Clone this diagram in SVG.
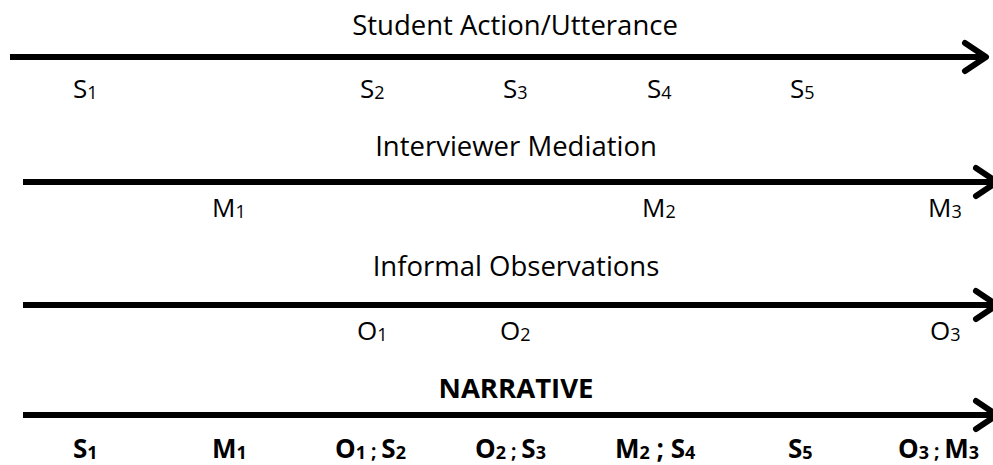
<svg xmlns="http://www.w3.org/2000/svg" width="993" height="465" viewBox="0 0 993 465">
<style>
.ax{fill:none;stroke:#000;stroke-width:6;stroke-linecap:round;stroke-linejoin:round}
.line{fill:none;stroke:#000;stroke-width:6}
text{font-family:"Open Sans","Noto Sans","Liberation Sans",sans-serif;font-size:26px;fill:#000}
.t{text-anchor:middle;font-size:27.5px}
.b{font-weight:bold}
.s{font-size:18px}
.sm{font-size:19px}
</style>
<rect width="993" height="465" fill="#fff"/>
<g id="connectors">
<line class="line" x1="10" y1="57" x2="984" y2="57"/>
<path class="ax" d="M965 43 L986 57 L965 71"/>
<line class="line" x1="23" y1="182" x2="993" y2="182"/>
<path class="ax" d="M976 168 L997 182 L976 196"/>
<line class="line" x1="23" y1="305" x2="993" y2="305"/>
<path class="ax" d="M976 291 L997 305 L976 319"/>
<line class="line" x1="23" y1="415" x2="993" y2="415"/>
<path class="ax" d="M976 401 L997 415 L976 429"/>
</g>
<g id="title-student"><text class="t" x="515" y="35">Student Action/Utterance</text></g>
<g id="title-interviewer"><text class="t" x="516" y="156">Interviewer Mediation</text></g>
<g id="title-informal"><text class="t" x="516" y="276">Informal Observations</text></g>
<g id="title-narrative"><text class="t b" x="516" y="398">NARRATIVE</text></g>
<g id="s1"><text x="73" y="98">S<tspan class="s" dy="1">1</tspan></text></g>
<g id="s2"><text x="360" y="98">S<tspan class="s" dy="1">2</tspan></text></g>
<g id="s3"><text x="503" y="98">S<tspan class="s" dy="1">3</tspan></text></g>
<g id="s4"><text x="647" y="98">S<tspan class="s" dy="1">4</tspan></text></g>
<g id="s5"><text x="790" y="98">S<tspan class="s" dy="1">5</tspan></text></g>
<g id="m1"><text x="212" y="217">M<tspan class="s" dy="1">1</tspan></text></g>
<g id="m2"><text x="642" y="217">M<tspan class="s" dy="1">2</tspan></text></g>
<g id="m3"><text x="928" y="217">M<tspan class="s" dy="1">3</tspan></text></g>
<g id="o1"><text x="357" y="340">O<tspan class="s" dy="1">1</tspan></text></g>
<g id="o2"><text x="500" y="340">O<tspan class="s" dy="1">2</tspan></text></g>
<g id="o3"><text x="930" y="340">O<tspan class="s" dy="1">3</tspan></text></g>
<g id="n1"><text class="b" x="73" y="458">S<tspan class="s" dy="1">1</tspan></text></g>
<g id="n2"><text class="b" x="212" y="458">M<tspan class="s" dy="1">1</tspan></text></g>
<g id="n3"><text class="b" x="335" y="458">O<tspan class="s" dy="1">1</tspan><tspan class="sm" dy="-1"> ; </tspan>S<tspan class="s" dy="1">2</tspan></text></g>
<g id="n4"><text class="b" x="475" y="458">O<tspan class="s" dy="1">2</tspan><tspan class="sm" dy="-1"> ; </tspan>S<tspan class="s" dy="1">3</tspan></text></g>
<g id="n5"><text class="b" x="615" y="458">M<tspan class="s" dy="1">2</tspan><tspan dy="-1"> ; </tspan>S<tspan class="s" dy="1">4</tspan></text></g>
<g id="n6"><text class="b" x="788" y="458">S<tspan class="s" dy="1">5</tspan></text></g>
<g id="n7"><text class="b" x="898" y="458">O<tspan class="s" dy="1">3</tspan><tspan class="sm" dy="-1"> ; </tspan>M<tspan class="s" dy="1">3</tspan></text></g>
</svg>
